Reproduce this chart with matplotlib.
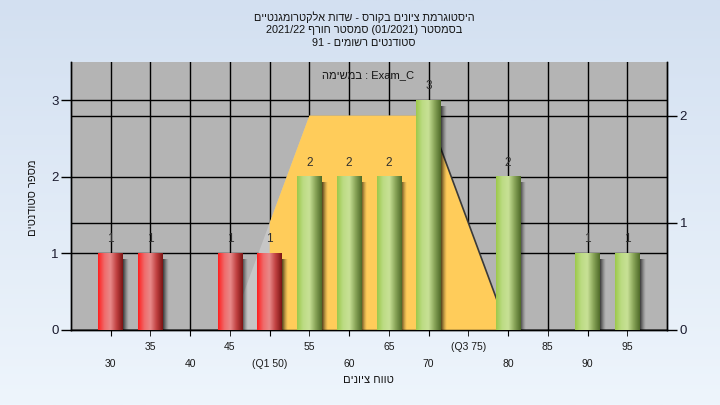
import re

import matplotlib
matplotlib.use("Agg")
import matplotlib.pyplot as plt
import numpy as np
from matplotlib.colors import LinearSegmentedColormap
from matplotlib.transforms import blended_transform_factory

plt.rcParams['font.family'] = ['Liberation Sans', 'DejaVu Sans']

# histogram data
grades = [30, 35, 40, 45, 50, 55, 60, 65, 70, 75, 80, 85, 90, 95]
counts = [1, 1, 0, 1, 1, 2, 2, 2, 3, 0, 2, 0, 1, 1]
pass_grade = 55

# x tick labels, two rows
lower_ticks = [30, 40, 50, 60, 70, 80, 90]
lower_labels = ['30', '40', '(Q1 50)', '60', '70', '80', '90']
upper_ticks = [35, 45, 55, 65, 75, 85, 95]
upper_labels = ['35', '45', '55', '65', '(Q3 75)', '85', '95']

# quartile trapezoid (right axis units)
box_x = [45, 55, 70, 80]
box_y = [0, 2, 2, 0]
q1 = 50

title_lines = ['היסטוגרמת ציונים בקורס - שדות אלקטרומגנטיים',
               'בסמסטר (01/2021) סמסטר חורף 2021/22',
               'סטודנטים רשומים - 91']
exam_label = 'Exam_C : במשימה'
x_label = 'טווח ציונים'
y_label = 'מספר סטודנטים'


def rtl(s):
    # rough bidi for a right-to-left line: reverse, keep latin/digit runs in order
    s = s[::-1]
    s = re.sub(r'[A-Za-z0-9_/.]+', lambda m: m.group(0)[::-1], s)
    return s.translate(str.maketrans('()', ')('))


def cylinder(ax, x, h, w, cols):
    cmap = LinearSegmentedColormap.from_list('cyl', cols)
    grad = np.linspace(0, 1, 128).reshape(1, -1)
    ax.imshow(grad, cmap=cmap, extent=[x - w / 2, x + w / 2, 0, h],
              aspect='auto', zorder=4, interpolation='bilinear')
    # soft shadow to the right
    sh = np.zeros((1, 32, 4))
    sh[0, :, 3] = np.linspace(0.75, 0.0, 32) ** 1.3
    ax.imshow(sh, extent=[x + w / 2, x + w / 2 + 0.75, -0.08, h - 0.08],
              aspect='auto', zorder=3.5, interpolation='bilinear')


fig = plt.figure(figsize=(7.2, 4.05), dpi=100)

# light blue gradient background
bg = fig.add_axes([0, 0, 1, 1], zorder=-10)
bg_cmap = LinearSegmentedColormap.from_list('bg', ['#d3e0f1', '#eef5fc'])
bg.imshow(np.linspace(0, 1, 256).reshape(-1, 1), cmap=bg_cmap, aspect='auto',
          extent=[0, 1, 0, 1])
bg.axis('off')

ax = fig.add_axes([71 / 720, 75 / 405, 596 / 720, 268 / 405])
ax2 = ax.twinx()
ax.set_zorder(2)
ax.patch.set_visible(False)
ax2.patch.set_visible(True)
ax2.set_facecolor('#b4b4b4')

ax.set_xlim(25, 100)
ax.set_ylim(0, 3.5)
ax2.set_ylim(0, 2.5)

# grids
ax.set_axisbelow(True)
ax.set_yticks([0, 1, 2, 3])
ax.set_xticks(lower_ticks)
ax.set_xticklabels(lower_labels)
ax.set_xticks(upper_ticks, minor=True)
ax.set_xticklabels(upper_labels, minor=True)
ax.grid(True, which='both', color='black', lw=1)
ax2.set_yticks([0, 1, 2])
ax2.grid(True, axis='y', color='black', lw=1)

# trapezoid: light part left of Q1, yellow from Q1 on
tr = blended_transform_factory(ax.transData, ax2.transData)
ax.fill(box_x, box_y, color='#c6c6c6', transform=tr, zorder=1, lw=0)
y_q1 = np.interp(q1, box_x, box_y)
yx = [q1, q1] + [v for v in box_x if v > q1]
yy = [0, y_q1] + [box_y[i] for i, v in enumerate(box_x) if v > q1]
ax.fill(yx, yy, color='#ffcc5a', transform=tr, zorder=1.2, lw=0)
ax.plot(box_x[2:], box_y[2:], color='#3a3a3a', lw=1.2, transform=tr, zorder=1.3)

# bars
red = ['#ff1e1e', '#f06a6a', '#e88a8a', '#c04040', '#7a1414']
green = ['#9cc84a', '#bcdc84', '#c8e196', '#88a458', '#4e6a28']
for g, c in zip(grades, counts):
    if c == 0:
        continue
    cols = red if g < pass_grade else green
    cylinder(ax, g, c, 3.1, cols)
    ax.annotate(str(c), (g, c), xytext=(0, 6), textcoords='offset points',
                ha='center', va='bottom', fontsize=8.5, color='#303030', zorder=6)

ax.set_xlim(25, 100)
ax.set_ylim(0, 3.5)

for a in (ax, ax2):
    a.spines['top'].set_visible(False)
    for s in ('left', 'right', 'bottom'):
        a.spines[s].set_color('black')
        a.spines[s].set_linewidth(1)

ax.tick_params(axis='y', length=7, width=1, labelsize=9.5, labelcolor='#1a1a2e', pad=2)
ax2.tick_params(axis='y', length=7, width=1, labelsize=9.5, labelcolor='#1a1a2e', pad=2)
ax.tick_params(axis='x', which='major', length=4, pad=17, labelsize=7.5, labelcolor='#1a1a1a')
ax.tick_params(axis='x', which='minor', length=4, pad=5, labelsize=7.5, labelcolor='#1a1a1a')

# texts
ys = [17, 30, 43]
for line, y in zip(title_lines, ys):
    fig.text(364 / 720, 1 - y / 405, rtl(line), ha='center', va='center',
             fontsize=7.8, color='#141414')
fig.text(368 / 720, 1 - 75 / 405, rtl(exam_label), ha='center', va='center',
         fontsize=8, color='#141414', zorder=10)
fig.text(368 / 720, 1 - 380 / 405, rtl(x_label), ha='center', va='center',
         fontsize=8, color='#141414')
fig.text(33 / 720, 1 - 198 / 405, rtl(y_label), ha='center', va='center',
         rotation=90, fontsize=8, color='#141414')

fig.savefig('out.png', dpi=100)
